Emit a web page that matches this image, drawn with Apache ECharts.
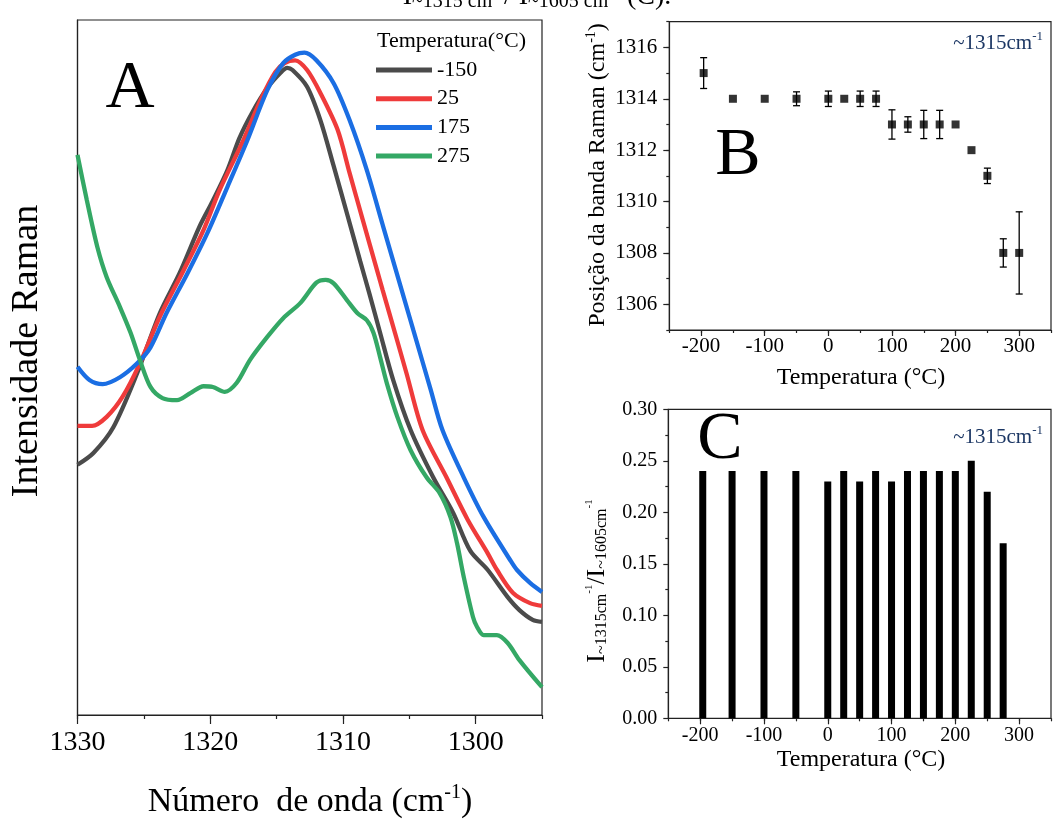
<!DOCTYPE html>
<html><head><meta charset="utf-8">
<script src="https://cdn.jsdelivr.net/npm/echarts@6/dist/echarts.min.js"></script>
<style>html,body{margin:0;padding:0;background:#fff}#c{width:1054px;height:823px}</style>
</head><body><div id="c"></div>
<script>
// ---------- Panel A : Raman spectra ----------
const legendTemps = ['-150', '25', '175', '275'];
const wnBlack = [1330.0,1328.8,1327.3,1325.5,1323.8,1322.3,1320.8,1319.8,1318.7,1317.8,1316.8,1315.7,1314.7,1314.2,1313.8,1312.7,1311.7,1310.7,1309.7,1308.7,1308.0,1307.2,1306.2,1304.9,1303.2,1301.7,1300.4,1299.1,1297.6,1296.7,1295.7,1295.0];
const intBlack = [36.0,37.7,41.4,49.2,57.8,63.6,70.3,74.0,78.4,83.0,86.8,90.2,92.4,93.1,92.8,90.4,85.6,79.0,72.2,65.3,60.6,55.0,48.1,41.0,34.2,29.1,23.6,20.9,17.0,15.1,13.7,13.4];
const wnRed = [1330.0,1328.9,1327.8,1326.6,1325.3,1323.8,1322.0,1320.5,1319.3,1317.5,1316.2,1315.1,1314.4,1313.6,1312.7,1311.7,1310.4,1309.5,1308.5,1307.4,1307.0,1306.5,1305.2,1304.0,1302.2,1300.6,1299.1,1298.4,1297.2,1295.9,1295.0];
const intRed = [41.6,41.6,42.9,45.8,50.6,57.3,64.0,69.8,75.5,82.7,88.5,92.5,93.8,94.2,92.8,89.5,84.2,78.0,71.2,63.8,61.1,57.8,49.1,41.0,34.2,28.1,23.3,20.9,17.6,16.1,15.7];
const wnBlue = [1330.0,1329.1,1328.1,1326.8,1325.5,1324.5,1323.3,1321.7,1320.2,1318.7,1317.2,1315.7,1314.5,1313.6,1312.9,1312.0,1310.7,1309.5,1308.2,1307.0,1306.1,1305.2,1304.7,1303.4,1302.5,1300.9,1299.4,1297.4,1296.9,1295.9,1295.0];
const intBlue = [50.1,48.2,47.6,48.6,50.6,52.9,57.8,63.6,69.4,76.0,82.7,89.9,93.8,95.0,95.3,94.2,90.9,85.6,78.4,70.5,64.6,58.7,55.4,46.9,41.0,34.2,28.5,22.3,20.9,19.0,17.7];
const wnGreen = [1330.0,1329.3,1328.5,1327.8,1326.8,1326.0,1325.3,1324.5,1323.6,1322.5,1321.5,1320.5,1319.8,1318.9,1318.0,1317.0,1315.7,1314.5,1313.2,1312.0,1311.3,1310.7,1309.7,1308.9,1308.2,1307.7,1307.2,1306.7,1305.9,1304.9,1303.7,1302.7,1301.9,1301.4,1300.9,1300.2,1299.9,1299.4,1298.4,1297.6,1296.7,1295.0];
const intGreen = [80.6,74.1,67.3,63.0,58.7,55.0,51.1,47.2,45.6,45.3,46.3,47.3,47.2,46.5,47.8,51.1,54.4,57.1,59.3,62.2,62.6,62.1,59.7,57.8,56.8,55.0,51.5,47.8,42.9,38.1,34.2,31.9,28.5,24.7,19.9,14.1,12.7,11.5,11.5,10.4,7.9,4.0];
const xTicksA = [1330, 1320, 1310, 1300];

// ---------- Panel B : band position ----------
const tempB = [-196,-150,-100,-50,0,25,50,75,100,125,150,175,200,225,250,275,300];
const posB  = [1315,1314,1314,1314,1314,1314,1314,1314,1313,1313,1313,1313,1313,1312,1311,1308,1308];
const errB  = [0.6,0,0,0.27,0.3,0,0.3,0.3,0.57,0.3,0.55,0.55,0,0,0.3,0.55,1.6];
const yTicksB = [1306,1308,1310,1312,1314,1316];
const xTicksBC = [-200,-100,0,100,200,300];

// ---------- Panel C : intensity ratio ----------
const tempC  = [-196,-150,-100,-50,0,25,50,75,100,125,150,175,200,225,250,275];
const ratioC = [0.24,0.24,0.24,0.24,0.23,0.24,0.23,0.24,0.23,0.24,0.24,0.24,0.24,0.25,0.22,0.17];

const FF = 'Liberation Serif';
const AX = '#222';
const zip = (a, b) => a.map((v, i) => [v, b[i]]);

const chart = echarts.init(document.getElementById('c'), null, {renderer: 'canvas'});

function txt(x, y, text, size, opts) {
  opts = opts || {};
  return {
    type: 'text', x: x, y: y, rotation: opts.rot || 0, z: 100,
    style: Object.assign({
      text: text, fontSize: size, fontFamily: FF, fill: opts.fill || '#000',
      align: opts.align || 'center', verticalAlign: opts.va || 'middle'
    }, opts.rich ? {rich: opts.rich} : {})
  };
}

const supRich = (base, color) => ({
  b: {fontSize: base, fontFamily: FF, fill: color || '#000', lineHeight: base + 4},
  s: {fontSize: Math.round(base * 0.6), fontFamily: FF, fill: color || '#000', lineHeight: Math.round(base * 0.6), verticalAlign: 'top'}
});

const ratioRich = {
  b: {fontSize: 26, fontFamily: FF, fill: '#000', lineHeight: 26},
  d: {fontSize: 16, fontFamily: FF, fill: '#000', lineHeight: 14, verticalAlign: 'bottom'},
  s: {fontSize: 11, fontFamily: FF, fill: '#000', lineHeight: 12, verticalAlign: 'top'}
};

const baseX = (extra) => Object.assign({type: 'value', position: 'bottom', splitLine: {show: false}}, extra);

const option = {
  animation: false,
  backgroundColor: '#fff',
  grid: [
    {left: 77.5, top: 20, width: 464.5, height: 695, show: true, borderColor: AX, borderWidth: 1.2, backgroundColor: 'transparent'},
    {left: 669.3, top: 21.7, width: 383.4, height: 308.3, show: true, borderColor: AX, borderWidth: 1.2, backgroundColor: 'transparent'},
    {left: 668.3, top: 409.3, width: 401.2, height: 309, show: true, borderColor: AX, borderWidth: 1.2, backgroundColor: 'transparent'}
  ],
  xAxis: [
    baseX({gridIndex: 0, inverse: true, min: 1295, max: 1330, interval: 5,
     axisLine: {onZero: false, lineStyle: {color: AX, width: 1.2}},
     axisTick: {length: 4, lineStyle: {color: AX, width: 1.2}},
     axisLabel: {formatter: v => (v % 10 === 0 ? String(v) : ''), fontSize: 28, fontFamily: FF, color: '#000', margin: 14, showMinLabel: true, showMaxLabel: true}}),
    baseX({gridIndex: 0, inverse: true, min: 1295, max: 1330, interval: 5,
     axisLine: {show: false, onZero: false}, axisLabel: {show: false},
     axisTick: {length: 9, customValues: xTicksA, lineStyle: {color: AX, width: 1.2}}}),
    baseX({gridIndex: 1, min: -250, max: 350, interval: 50,
     axisLine: {onZero: false, lineStyle: {color: AX, width: 1.2}},
     axisTick: {length: 3, lineStyle: {color: AX, width: 1.2}},
     axisLabel: {formatter: v => (xTicksBC.indexOf(v) >= 0 ? String(v) : ''), fontSize: 21, fontFamily: FF, color: '#000', margin: 6}}),
    baseX({gridIndex: 1, min: -250, max: 350, interval: 50,
     axisLine: {show: false, onZero: false}, axisLabel: {show: false},
     axisTick: {length: 6, customValues: xTicksBC, lineStyle: {color: AX, width: 1.2}}}),
    baseX({gridIndex: 2, min: -250, max: 350, interval: 50,
     axisLine: {onZero: false, lineStyle: {color: AX, width: 1.2}},
     axisTick: {length: 3, lineStyle: {color: AX, width: 1.2}},
     axisLabel: {formatter: v => (xTicksBC.indexOf(v) >= 0 ? String(v) : ''), fontSize: 20, fontFamily: FF, color: '#000', margin: 7}}),
    baseX({gridIndex: 2, min: -250, max: 350, interval: 50,
     axisLine: {show: false, onZero: false}, axisLabel: {show: false},
     axisTick: {length: 6, customValues: xTicksBC, lineStyle: {color: AX, width: 1.2}}})
  ],
  yAxis: [
    {gridIndex: 0, type: 'value', min: 0, max: 100, position: 'left',
     axisLine: {show: true, onZero: false, lineStyle: {color: AX, width: 1.2}}, axisTick: {show: false}, axisLabel: {show: false}, splitLine: {show: false}},
    {gridIndex: 1, type: 'value', min: 1305, max: 1317, interval: 1, position: 'left',
     axisLine: {show: true, onZero: false, lineStyle: {color: AX, width: 1.2}}, splitLine: {show: false},
     axisTick: {length: 3, lineStyle: {color: AX, width: 1.2}},
     axisLabel: {formatter: v => (yTicksB.indexOf(v) >= 0 ? String(v) : ''), fontSize: 21, fontFamily: FF, color: '#000', margin: 12}},
    {gridIndex: 1, type: 'value', min: 1305, max: 1317, interval: 1, position: 'left',
     axisLine: {show: false, onZero: false}, splitLine: {show: false}, axisLabel: {show: false},
     axisTick: {length: 6, customValues: yTicksB, lineStyle: {color: AX, width: 1.2}}},
    {gridIndex: 2, type: 'value', min: 0, max: 0.3, interval: 0.05, position: 'left',
     axisLine: {show: true, onZero: false, lineStyle: {color: AX, width: 1.2}}, splitLine: {show: false},
     axisTick: {length: 5, lineStyle: {color: AX, width: 1.2}},
     minorTick: {show: true, splitNumber: 2, length: 3, lineStyle: {color: AX, width: 1.2}},
     axisLabel: {formatter: v => v.toFixed(2), fontSize: 20, fontFamily: FF, color: '#000', margin: 11}}
  ],
  legend: {
    data: legendTemps, orient: 'vertical', left: 371, top: 54, padding: 5,
    itemWidth: 56, itemHeight: 5, itemGap: 6.7, icon: 'rect', selectedMode: false,
    textStyle: {fontSize: 22, fontFamily: FF, color: '#000', lineHeight: 22}
  },
  series: [
    {name: legendTemps[0], type: 'line', xAxisIndex: 0, yAxisIndex: 0, data: zip(wnBlack, intBlack), showSymbol: false, smooth: 0.3, color: '#4b4b4b', lineStyle: {width: 4.3}, z: 3},
    {name: legendTemps[1], type: 'line', xAxisIndex: 0, yAxisIndex: 0, data: zip(wnRed, intRed), showSymbol: false, smooth: 0.3, color: '#ef3b3b', lineStyle: {width: 4.3}, z: 4},
    {name: legendTemps[2], type: 'line', xAxisIndex: 0, yAxisIndex: 0, data: zip(wnBlue, intBlue), showSymbol: false, smooth: 0.3, color: '#1b6ee3', lineStyle: {width: 4.3}, z: 5},
    {name: legendTemps[3], type: 'line', xAxisIndex: 0, yAxisIndex: 0, data: zip(wnGreen, intGreen), showSymbol: false, smooth: 0.3, color: '#34a865', lineStyle: {width: 4.3}, z: 6},
    {type: 'custom', xAxisIndex: 2, yAxisIndex: 1, z: 3,
     data: tempB.map((t, i) => [t, posB[i], errB[i]]),
     renderItem: function (params, api) {
       const x = api.value(0), y = api.value(1), e = api.value(2);
       if (!e) return {type: 'group', children: []};
       const top = api.coord([x, y + e]), bot = api.coord([x, y - e]);
       const hw = 3.5, st = {stroke: '#000', lineWidth: 1.3};
       return {type: 'group', children: [
         {type: 'line', shape: {x1: top[0], y1: top[1], x2: bot[0], y2: bot[1]}, style: st},
         {type: 'line', shape: {x1: top[0] - hw, y1: top[1], x2: top[0] + hw, y2: top[1]}, style: st},
         {type: 'line', shape: {x1: bot[0] - hw, y1: bot[1], x2: bot[0] + hw, y2: bot[1]}, style: st}
       ]};
     }},
    {type: 'scatter', xAxisIndex: 2, yAxisIndex: 1, z: 4, symbol: 'rect', symbolSize: 8, color: '#000',
     data: zip(tempB, posB)},
    {type: 'bar', xAxisIndex: 4, yAxisIndex: 3, barWidth: 7, color: '#000', data: zip(tempC, ratioC)}
  ],
  graphic: [
    // partially cut caption at the top
    txt(537, 12, '{b|I}{d|~1315 cm}{s|-1}{b|/ I}{d|~1605 cm}{s|-1}{b| (C).}', 28,
        {va: 'bottom', rich: {
          b: {fontSize: 28, fontFamily: FF, fill: '#000', lineHeight: 30},
          d: {fontSize: 20, fontFamily: FF, fill: '#000', lineHeight: 18, verticalAlign: 'bottom'},
          s: {fontSize: 14, fontFamily: FF, fill: '#000', lineHeight: 14, verticalAlign: 'top'}}}),
    // panel letters
    txt(130, 89, 'A', 68),
    txt(738, 156, 'B', 68),
    txt(720, 440, 'C', 68),
    // legend title
    txt(377, 41, 'Temperatura(°C)', 22, {align: 'left'}),
    // axis titles panel A
    txt(310, 802, '{b|Número  de onda (cm}{s|-1}{b|)}', 34, {rich: supRich(34)}),
    txt(27, 351, 'Intensidade Raman', 38, {rot: Math.PI / 2}),
    // panel B
    txt(598, 175, '{b|Posição da banda Raman (cm}{s|-1}{b|)}', 24, {rot: Math.PI / 2, rich: supRich(24)}),
    txt(861, 378, 'Temperatura (°C)', 24),
    txt(1043, 43, '{b|~1315cm}{s|-1}', 21, {align: 'right', rich: supRich(21, '#1c3764')}),
    // panel C
    txt(597, 581, '{b|I}{d|~1315cm}{s|-1}{b|/I}{d|~1605cm}{s|-1}', 26, {rot: Math.PI / 2, rich: ratioRich}),
    txt(861, 760, 'Temperatura (°C)', 24),
    txt(1043, 437, '{b|~1315cm}{s|-1}', 21, {align: 'right', rich: supRich(21, '#1c3764')})
  ]
};
chart.setOption(option);
</script>
</body></html>
